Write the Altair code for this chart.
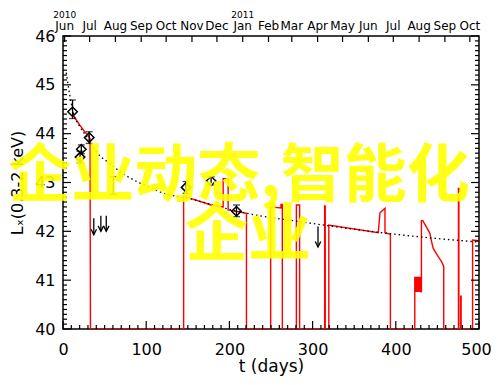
import altair as alt
import pandas as pd

# ---------------- data ----------------
# red light curve (t in days, log Lx); drops to 40 mark the gaps
red_t = [11.5, 13, 20, 26, 30, 32.5, 33,
         145, 145, 178, 192.5, 192.5, 198.5, 198.5, 220.5, 220.5,
         249.6, 249.6, 262, 262, 263.6, 263.6,
         280.5, 280.5, 284.4, 284.4,
         314.5, 314.5, 315.2, 315.2,
         319.5, 319.5, 378.9, 381, 387, 387, 393.5, 393.5,
         422.8, 422.8, 423.3, 423.8, 424.3, 424.8, 425.3, 425.8, 426.3, 426.8,
         427.3, 427.8, 428.3, 428.8, 429.3, 429.8, 430.3, 430.8, 430.8,
         432.5, 441, 442, 445, 451, 455, 457.6, 457.6,
         475.3, 475.3, 475.8, 475.8, 478, 478, 478.5, 478.5,
         492.3, 492.3, 500]
red_v = [44.45, 44.36, 44.18, 44.04, 43.97, 43.90, 40,
         40, 42.72, 42.54, 42.50, 43.08, 43.08, 42.44, 42.37, 40,
         40, 42.50, 42.48, 42.55, 42.55, 40,
         40, 42.54, 42.54, 40,
         40, 42.52, 42.52, 40,
         40, 42.13, 41.97, 42.38, 42.47, 41.97, 41.94, 40,
         40, 41.07, 40.76, 41.07, 40.76, 41.07, 40.76, 41.07, 40.76, 41.07,
         40.76, 41.07, 40.76, 41.07, 40.76, 41.07, 40.76, 40.76, 42.22,
         42.22, 41.96, 41.86, 41.65, 41.48, 41.38, 41.28, 40,
         40, 42.88, 42.88, 40, 40, 40.67, 40.67, 40,
         40, 41.82, 41.81]

# dotted model curve
fit_t = [4, 8, 12, 20, 31, 40, 56, 75, 100, 125, 150, 176, 200, 236, 280,
         325, 365, 405, 445, 500]
fit_v = [45.25, 44.80, 44.45, 44.15, 43.88, 43.63, 43.39, 43.15, 42.93, 42.76,
         42.68, 42.56, 42.45, 42.32, 42.21, 42.10, 42.01, 41.93, 41.86, 41.78]

# detections with error bars
det_t = [11.5, 20.5, 22, 31.5, 148, 178, 208.5]
det_v = [44.45, 43.52, 43.68, 43.92, 42.90, 43.03, 42.41]
det_lo = [44.31, 43.40, 43.59, 43.80, 42.78, 42.95, 42.30]
det_hi = [44.69, 43.64, 43.77, 44.04, 43.02, 43.12, 42.54]
# error bar without visible marker
bar_t = [60.5]
bar_lo = [42.76]
bar_hi = [43.12]

# upper limits (arrows)
ul_t = [37, 45.5, 52, 306.5]
ul_top = [42.27, 42.32, 42.32, 42.10]
ul_tip = [41.93, 42.00, 42.00, 41.68]

# top axis: months
month_t = [2, 32, 63, 94, 124, 155, 185, 216, 247, 275, 306, 336, 367, 397,
           428, 459, 489]
month_lab = ["Jun", "Jul", "Aug", "Sep", "Oct", "Nov", "Dec", "Jan", "Feb",
             "Mar", "Apr", "May", "Jun", "Jul", "Aug", "Sep", "Oct"]
year_t = [2, 216]
year_lab = ["2010", "2011"]

x_major = [0, 100, 200, 300, 400, 500]
y_major = [40, 41, 42, 43, 44, 45, 46]
x_minor = [v for v in range(0, 501, 10) if v % 100]
y_minor = [round(40 + i / 10, 1) for i in range(61) if i % 10]

watermark = ["企业动态,智能化", "企业"]

W, H = 416, 293
FONT = "DejaVu Sans"

xs = alt.Scale(domain=[0, 500], nice=False, zero=False)
ys = alt.Scale(domain=[40, 46], nice=False, zero=False)

red_df = pd.DataFrame({"t": red_t, "v": red_v, "i": range(len(red_t))})
fit_df = pd.DataFrame({"t": fit_t, "v": fit_v})
det_df = pd.DataFrame({"t": det_t, "v": det_v, "lo": det_lo, "hi": det_hi})
bar_df = pd.DataFrame({"t": bar_t, "lo": bar_lo, "hi": bar_hi})
ul_df = pd.DataFrame({"t": ul_t, "top": ul_top, "tip": ul_tip})
mon_df = pd.DataFrame({"t": month_t, "lab": month_lab})
yr_df = pd.DataFrame({"t": year_t, "lab": year_lab})

base_x = alt.X("t:Q", scale=xs,
               axis=alt.Axis(values=x_major, ticks=False, domain=False, grid=False,
                             labelFlush=False, labelOverlap=False,
                             labelOffset={"condition": {"test": "datum.value == 500",
                                                        "value": -3},
                                          "value": 0},
                             labelFont=FONT, labelFontSize=16, labelPadding=12,
                             labelColor="black", title="t (days)", titleFont=FONT,
                             titleFontSize=17, titleFontWeight="normal",
                             titleColor="black", titlePadding=1))
base_y = alt.Y("v:Q", scale=ys,
               axis=alt.Axis(values=y_major, ticks=False, domain=False, grid=False,
                             labelFlush=False, labelOverlap=False,
                             labelFont=FONT, labelFontSize=16, labelPadding=8,
                             labelColor="black", title="Lₓ(0.3-2 keV)",
                             titleFont=FONT, titleFontSize=16,
                             titleFontWeight="normal", titleColor="black",
                             titlePadding=9))

red = alt.Chart(red_df).mark_line(color="#ff0000", strokeWidth=1.4, clip=True).encode(
    x=base_x, y=base_y, order="i:Q")

fit = alt.Chart(fit_df).mark_line(color="black", strokeWidth=1.3,
                                  strokeDash=[1.5, 3], interpolate="monotone").encode(
    x=alt.X("t:Q", scale=xs), y=alt.Y("v:Q", scale=ys))

err = alt.Chart(det_df).mark_rule(color="black", strokeWidth=1.3).encode(
    x=alt.X("t:Q", scale=xs), y=alt.Y("lo:Q", scale=ys), y2="hi:Q")
cap_lo = alt.Chart(det_df).mark_tick(color="black", orient="horizontal", size=7,
                                     thickness=1.3).encode(
    x=alt.X("t:Q", scale=xs), y=alt.Y("lo:Q", scale=ys))
cap_hi = alt.Chart(det_df).mark_tick(color="black", orient="horizontal", size=7,
                                     thickness=1.3).encode(
    x=alt.X("t:Q", scale=xs), y=alt.Y("hi:Q", scale=ys))
dia = alt.Chart(det_df).mark_point(shape="diamond", filled=False, color="black",
                                   strokeWidth=1.5, size=90, opacity=1).encode(
    x=alt.X("t:Q", scale=xs), y=alt.Y("v:Q", scale=ys))

bar = alt.Chart(bar_df).mark_rule(color="black", strokeWidth=1.3).encode(
    x=alt.X("t:Q", scale=xs), y=alt.Y("lo:Q", scale=ys), y2="hi:Q")
bar_c1 = alt.Chart(bar_df).mark_tick(color="black", orient="horizontal", size=7,
                                     thickness=1.3).encode(
    x=alt.X("t:Q", scale=xs), y=alt.Y("lo:Q", scale=ys))
bar_c2 = alt.Chart(bar_df).mark_tick(color="black", orient="horizontal", size=7,
                                     thickness=1.3).encode(
    x=alt.X("t:Q", scale=xs), y=alt.Y("hi:Q", scale=ys))

ul_line = alt.Chart(ul_df).mark_rule(color="black", strokeWidth=1.3).encode(
    x=alt.X("t:Q", scale=xs), y=alt.Y("top:Q", scale=ys), y2="tip:Q")
ul_head = alt.Chart(ul_df).mark_point(shape="M-1,-2L0,0L1,-2", filled=False,
                                      color="black", strokeWidth=1.3, size=30,
                                      opacity=1).encode(
    x=alt.X("t:Q", scale=xs), y=alt.Y("tip:Q", scale=ys))

# tick marks pointing inwards (IDL style)
def vticks(vals, length, side):
    df = pd.DataFrame({"v": vals})
    if side == "left":
        xa, xb = 0, length
    else:
        xa, xb = W, W - length
    return alt.Chart(df).mark_rule(color="black", strokeWidth=1.2).encode(
        y=alt.Y("v:Q", scale=ys), x=alt.value(xa), x2=alt.value(xb))

def hticks(vals, length, side):
    df = pd.DataFrame({"t": vals})
    if side == "bottom":
        ya, yb = H, H - length
    else:
        ya, yb = 0, length
    return alt.Chart(df).mark_rule(color="black", strokeWidth=1.2).encode(
        x=alt.X("t:Q", scale=xs), y=alt.value(ya), y2=alt.value(yb))

ticks = [vticks(y_major, 8, "left"), vticks(y_minor, 4, "left"),
         vticks(y_major, 8, "right"), vticks(y_minor, 4, "right"),
         hticks(x_major, 8, "bottom"), hticks(x_minor, 4, "bottom"),
         hticks(month_t, 6, "top")]

months = alt.Chart(mon_df).mark_text(font=FONT, fontSize=12, color="black",
                                     baseline="middle", align="center").encode(
    x=alt.X("t:Q", scale=xs), y=alt.value(-10), text="lab:N")
years = alt.Chart(yr_df).mark_text(font=FONT, fontSize=9, color="black",
                                   baseline="middle", align="center").encode(
    x=alt.X("t:Q", scale=xs), y=alt.value(-21), text="lab:N")

wm1 = alt.Chart(pd.DataFrame({"s": [watermark[0]]})).mark_text(
    font="Noto Sans CJK SC", fontSize=63, fontWeight="bold", color="#ffff00",
    opacity=0.9, align="center", baseline="middle").encode(
    x=alt.value(176), y=alt.value(141), text="s:N")
wm2 = alt.Chart(pd.DataFrame({"s": [watermark[1]]})).mark_text(
    font="Noto Sans CJK SC", fontSize=63, fontWeight="bold", color="#ffff00",
    opacity=0.9, align="center", baseline="middle").encode(
    x=alt.value(185), y=alt.value(200), text="s:N")

chart = alt.layer(
    red, fit, err, cap_lo, cap_hi, dia, bar, bar_c1, bar_c2, ul_line, ul_head,
    *ticks, months, years, wm1, wm2
).properties(
    width=W, height=H, autosize="none",
    padding={"left": 55, "top": 28, "right": 13, "bottom": 48},
    background="white"
).configure_view(stroke="black", strokeWidth=1.5)

chart.save("out.html", embed_options={"renderer": "svg", "actions": False})
